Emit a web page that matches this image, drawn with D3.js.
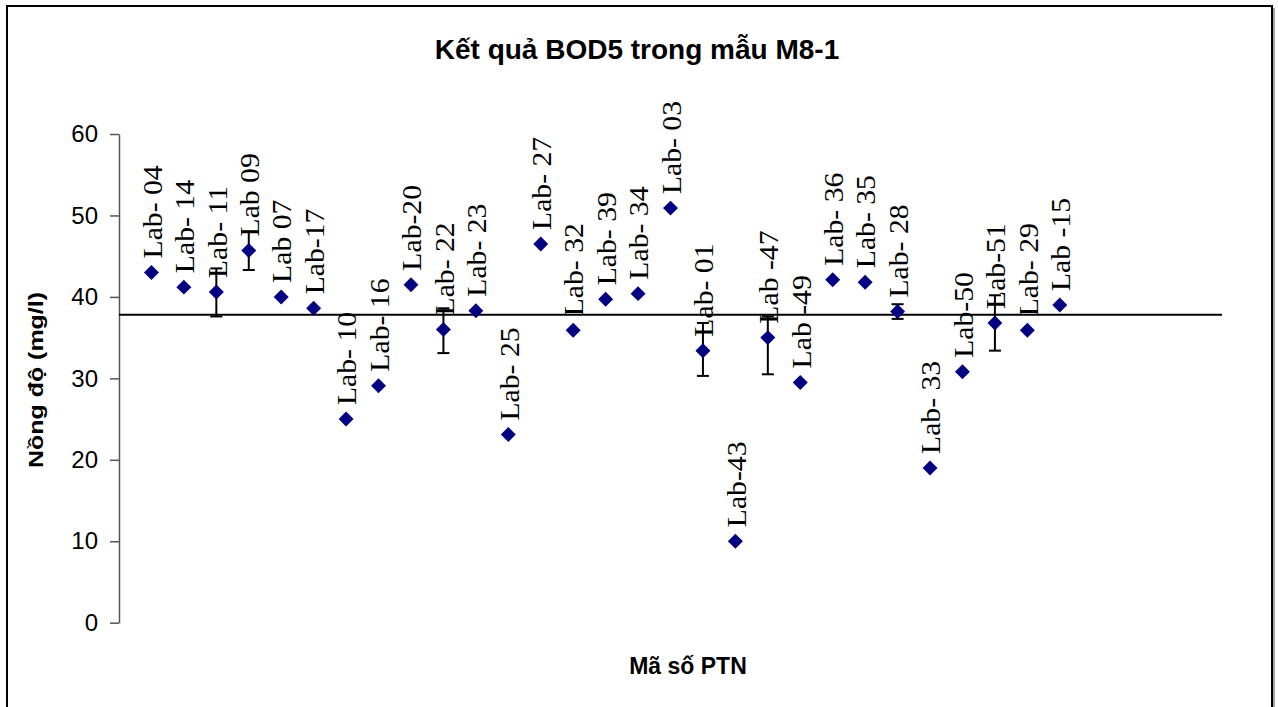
<!DOCTYPE html>
<html>
<head>
<meta charset="utf-8">
<script src="https://cdn.jsdelivr.net/npm/d3@7/dist/d3.min.js"></script>
<style>
  body { margin: 0; background: #fff; }
</style>
</head>
<body>
<script>
// mã phòng thí nghiệm (theo thứ tự trên biểu đồ)
var labs = ["Lab- 04", "Lab- 14", "Lab- 11", "Lab 09", "Lab 07", "Lab-17", "Lab- 10", "Lab- 16",
  "Lab-20", "Lab- 22", "Lab- 23", "Lab- 25", "Lab- 27", "Lab- 32", "Lab- 39", "Lab- 34",
  "Lab- 03", "Lab- 01", "Lab-43", "Lab -47", "Lab -49", "Lab- 36", "Lab- 35", "Lab- 28",
  "Lab- 33", "Lab-50", "Lab-51", "Lab- 29", "Lab -15"];

// kết quả BOD5 (mg/l)
var values = [43.0, 41.2, 40.6, 45.7, 40.0, 38.6, 25.0, 29.1,
  41.5, 36.0, 38.3, 23.1, 46.5, 35.9, 39.7, 40.4,
  50.9, 33.4, 10.0, 35.0, 29.5, 42.1, 41.8, 38.2,
  19.0, 30.8, 36.8, 35.9, 39.0];

// sai số (trên / dưới)
var errPlus = [0, 0, 2.9, 2.3, 0, 0, 0, 0,
  0, 2.6, 0, 0, 0, 0, 0, 0,
  0, 3.4, 0, 2.6, 0, 0, 0, 0.9,
  0, 0, 3.4, 0, 0];
var errMinus = [0, 0, 3.0, 2.4, 0, 0, 0, 0,
  0, 2.9, 0, 0, 0, 0, 0, 0,
  0, 3.1, 0, 4.5, 0, 0, 0, 0.9,
  0, 0, 3.4, 0, 0];

// giá trị chỉ định (đường ngang)
var refValue = 37.8;
var xDomain = [0, 34];
var yTicks = [0, 10, 20, 30, 40, 50, 60];

var width = 1278;
var height = 707;

var svg = d3.select("body")
  .append("svg")
  .attr("width", width)
  .attr("height", height);

// khung viền
svg.append("rect")
  .attr("x", 7)
  .attr("y", 6)
  .attr("width", 1265)
  .attr("height", 730)
  .attr("fill", "#fff")
  .attr("stroke", "#000")
  .attr("stroke-width", 2);
svg.append("line")
  .attr("x1", 1274).attr("x2", 1274)
  .attr("y1", 8).attr("y2", height)
  .attr("stroke", "#888")
  .attr("stroke-width", 1.5);

var xScale = d3.scaleLinear()
  .domain(xDomain)
  .range([119, 1222]);

var yScale = d3.scaleLinear()
  .domain([0, 60])
  .range([622.7, 134]);

// trục y
var yAxis = d3.axisLeft(yScale)
  .tickValues(yTicks)
  .tickSize(9)
  .tickSizeOuter(0)
  .tickPadding(12);

var gy = svg.append("g")
  .attr("transform", "translate(119,0)")
  .call(yAxis);
gy.select(".domain").attr("stroke", "#555").attr("stroke-width", 1.5);
gy.selectAll(".tick line").attr("stroke", "#555").attr("stroke-width", 1.5);
gy.selectAll(".tick text")
  .attr("fill", "#000")
  .style("font-family", "Arial, 'Liberation Sans', sans-serif")
  .style("font-size", "24px");

// tiêu đề
svg.append("text")
  .attr("x", 637)
  .attr("y", 59)
  .attr("text-anchor", "middle")
  .style("font-family", "Arial, 'Liberation Sans', sans-serif")
  .style("font-weight", "bold")
  .style("font-size", "28px")
  .text("Kết quả BOD5 trong mẫu M8-1");

svg.append("text")
  .attr("transform", "translate(43,380) rotate(-90)")
  .attr("text-anchor", "middle")
  .attr("textLength", 176)
  .attr("lengthAdjust", "spacingAndGlyphs")
  .style("font-family", "Arial, 'Liberation Sans', sans-serif")
  .style("font-weight", "bold")
  .style("font-size", "20px")
  .text("Nồng độ (mg/l)");

svg.append("text")
  .attr("x", 688)
  .attr("y", 674)
  .attr("text-anchor", "middle")
  .style("font-family", "Arial, 'Liberation Sans', sans-serif")
  .style("font-weight", "bold")
  .style("font-size", "23px")
  .text("Mã số PTN");

// đường giá trị chỉ định
svg.append("line")
  .attr("x1", xScale(xDomain[0]))
  .attr("x2", xScale(xDomain[1]))
  .attr("y1", yScale(refValue))
  .attr("y2", yScale(refValue))
  .attr("stroke", "#000")
  .attr("stroke-width", 2);

var dataset = labs.map(function (d, i) {
  return { lab: d, x: i + 1, v: values[i], up: errPlus[i], down: errMinus[i] };
});

// nhãn
svg.selectAll(".lbl")
  .data(dataset)
  .enter()
  .append("text")
  .attr("class", "lbl")
  .attr("transform", function (d) {
    return "translate(" + xScale(d.x) + "," + (yScale(d.v) - 14) + ") rotate(-90) scale(1.1,1)";
  })
  .attr("dy", "0.38em")
  .style("font-family", "'Times New Roman', 'Liberation Serif', serif")
  .style("font-size", "27px")
  .text(function (d) { return d.lab; });

// thanh sai số
var errs = dataset.filter(function (d) { return d.up > 0 || d.down > 0; });
var eg = svg.selectAll(".err")
  .data(errs)
  .enter()
  .append("g")
  .attr("class", "err")
  .attr("stroke", "#000")
  .attr("stroke-width", 2);
eg.append("line")
  .attr("x1", function (d) { return xScale(d.x); })
  .attr("x2", function (d) { return xScale(d.x); })
  .attr("y1", function (d) { return yScale(d.v + d.up); })
  .attr("y2", function (d) { return yScale(d.v - d.down); });
eg.append("line")
  .attr("x1", function (d) { return xScale(d.x) - 6; })
  .attr("x2", function (d) { return xScale(d.x) + 6; })
  .attr("y1", function (d) { return yScale(d.v + d.up); })
  .attr("y2", function (d) { return yScale(d.v + d.up); });
eg.append("line")
  .attr("x1", function (d) { return xScale(d.x) - 6; })
  .attr("x2", function (d) { return xScale(d.x) + 6; })
  .attr("y1", function (d) { return yScale(d.v - d.down); })
  .attr("y2", function (d) { return yScale(d.v - d.down); });

// điểm hình thoi
var diamond = d3.symbol().type(d3.symbolSquare).size(112);
svg.selectAll(".pt")
  .data(dataset)
  .enter()
  .append("path")
  .attr("class", "pt")
  .attr("d", diamond)
  .attr("transform", function (d) {
    return "translate(" + xScale(d.x) + "," + yScale(d.v) + ") rotate(45)";
  })
  .attr("fill", "#000080");
</script>
</body>
</html>
